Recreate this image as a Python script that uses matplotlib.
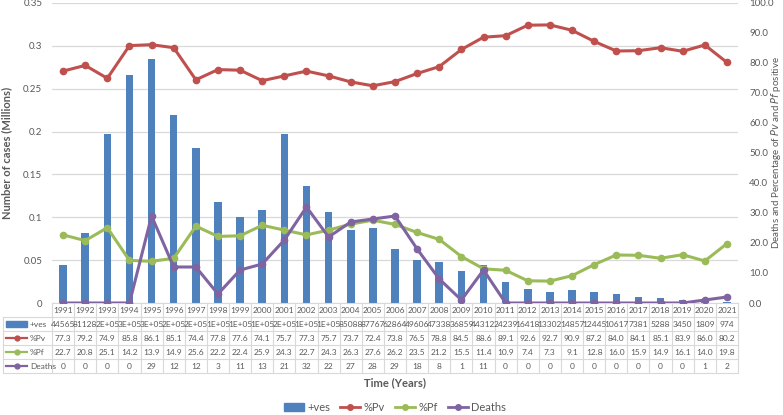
import matplotlib.pyplot as plt
from matplotlib.lines import Line2D
from matplotlib.patches import Patch, Rectangle

plt.rcParams["font.family"] = ["Lato", "DejaVu Sans"]

years = list(range(1991, 2022))
cases = [44565, 81128, 197000, 266000, 285000, 219000, 181000, 118000, 100000,
         108000, 197000, 137000, 106000, 85088, 87767, 62864, 49606, 47338,
         36859, 44312, 24239, 16418, 13302, 14857, 12445, 10617, 7381, 5288,
         3450, 1809, 974]
pv = [77.3, 79.2, 74.9, 85.8, 86.1, 85.1, 74.4, 77.8, 77.6, 74.1, 75.7, 77.3,
      75.7, 73.7, 72.4, 73.8, 76.5, 78.8, 84.5, 88.6, 89.1, 92.6, 92.7, 90.9,
      87.2, 84.0, 84.1, 85.1, 83.9, 86.0, 80.2]
pf = [22.7, 20.8, 25.1, 14.2, 13.9, 14.9, 25.6, 22.2, 22.4, 25.9, 24.3, 22.7,
      24.3, 26.3, 27.6, 26.2, 23.5, 21.2, 15.5, 11.4, 10.9, 7.4, 7.3, 9.1,
      12.8, 16.0, 15.9, 14.9, 16.1, 14.0, 19.8]
deaths = [0, 0, 0, 0, 29, 12, 12, 3, 11, 13, 21, 32, 22, 27, 28, 29, 18, 8, 1,
          11, 0, 0, 0, 0, 0, 0, 0, 0, 0, 1, 2]

BLUE = "#4F81BD"
RED = "#C0504D"
GREEN = "#9BBB59"
PURPLE = "#8064A2"
TXT = "#595959"
GRID = "#D9D9D9"

W, H = 783, 415
fig = plt.figure(figsize=(W / 100, H / 100), dpi=100)
ax = fig.add_axes([52 / W, 1 - 303 / H, (738 - 52) / W, 300 / H])
ax2 = ax.twinx()

x = list(range(len(years)))
ax.bar(x, [c / 1e6 for c in cases], width=0.34, color=BLUE, zorder=2)
ax.set_xlim(-0.5, len(years) - 0.5)
ax.set_ylim(0, 0.35)
ax.set_yticks([0, 0.05, 0.1, 0.15, 0.2, 0.25, 0.3, 0.35])
ax.set_yticklabels(["0", "0.05", "0.1", "0.15", "0.2", "0.25", "0.3", "0.35"])
ax.yaxis.grid(True, color=GRID, lw=0.9, zorder=0)
ax.set_axisbelow(True)
ax.set_xticks([])

mk = dict(marker="o", markersize=4.5, lw=2.2)
ax2.plot(x, pv, color=RED, **mk)
ax2.plot(x, pf, color=GREEN, **mk)
ax2.plot(x, deaths, color=PURPLE, **mk)
ax2.set_ylim(0, 100)
ax2.set_yticks(range(0, 101, 10))
ax2.set_yticklabels([f"{v:.1f}" for v in range(0, 101, 10)])

for a in (ax, ax2):
    for s in a.spines.values():
        s.set_visible(False)
    a.tick_params(length=0, labelsize=7, colors=TXT)
ax.tick_params(axis="y", pad=7)
ax2.tick_params(axis="y", pad=8)

ax.set_ylabel("Number of cases (Millions)", fontsize=8, color=TXT,
              fontweight="bold", labelpad=8)
fig.text(776 / W, 1 - 153 / H,
         r"Deaths and Percentage of $\it{Pv}$ and $\it{Pf}$ positive",
         rotation=90, ha="center", va="center", fontsize=7, color=TXT)

# data table under the axis
tr = ax.get_xaxis_transform()
row_h = 14 / 300
x_left = -0.5 - 49 / 22.13
x_right = len(years) - 0.5


def fmt_case(v):
    return f"{v:.0E}" if v >= 100000 else str(v)


rows = [
    [str(y) for y in years],
    [fmt_case(v) for v in cases],
    [f"{v:.1f}" for v in pv],
    [f"{v:.1f}" for v in pf],
    [str(v) for v in deaths],
]
for r, vals in enumerate(rows):
    yc = -(r + 0.5) * row_h
    for i, s in enumerate(vals):
        ax.text(i, yc, s, transform=tr, ha="center", va="center",
                fontsize=6, color=TXT, clip_on=False)

ln = dict(color=GRID, lw=0.8, transform=tr, clip_on=False)
for r in range(6):
    x0 = -0.5 if r == 0 else x_left
    ax.add_line(Line2D([x0, x_right], [-r * row_h, -r * row_h], **ln))
for i in range(len(years) + 1):
    ax.add_line(Line2D([i - 0.5, i - 0.5], [0, -5 * row_h], **ln))
ax.add_line(Line2D([x_left, x_left], [-row_h, -5 * row_h], **ln))

# row labels with legend keys
key_x0 = x_left + 0.15
key_x1 = x_left + 1.1
labels = ["+ves", "%Pv", "%Pf", "Deaths"]
colors = [BLUE, RED, GREEN, PURPLE]
for r, (lab, col) in enumerate(zip(labels, colors), start=1):
    yc = -(r + 0.5) * row_h
    if r == 1:
        ax.add_patch(Rectangle((key_x0, yc - 0.009), key_x1 - key_x0, 0.018,
                               color=col, transform=tr, clip_on=False))
    else:
        ax.add_line(Line2D([key_x0, key_x1], [yc, yc], color=col, lw=1.6,
                           transform=tr, clip_on=False))
        ax.add_line(Line2D([(key_x0 + key_x1) / 2], [yc], color=col,
                           marker="o", markersize=3.5, transform=tr,
                           clip_on=False))
    ax.text(key_x1 + 0.12, yc, lab, transform=tr, ha="left", va="center",
            fontsize=6, color=TXT, clip_on=False)

fig.text(395 / W, 1 - 383 / H, "Time (Years)", ha="center", va="center",
         fontsize=8, color=TXT, fontweight="bold")

handles = [
    Patch(color=BLUE, label="+ves"),
    Line2D([], [], color=RED, marker="o", markersize=4, lw=2, label="%Pv"),
    Line2D([], [], color=GREEN, marker="o", markersize=4, lw=2, label="%Pf"),
    Line2D([], [], color=PURPLE, marker="o", markersize=4, lw=2, label="Deaths"),
]
leg = fig.legend(handles=handles, loc="center", bbox_to_anchor=(395 / W, 1 - 407 / H),
                 ncol=4, frameon=False, fontsize=8, handlelength=1.8,
                 columnspacing=0.9, handletextpad=0.3)
for t in leg.get_texts():
    t.set_color(TXT)

fig.savefig("out.png", dpi=100)
